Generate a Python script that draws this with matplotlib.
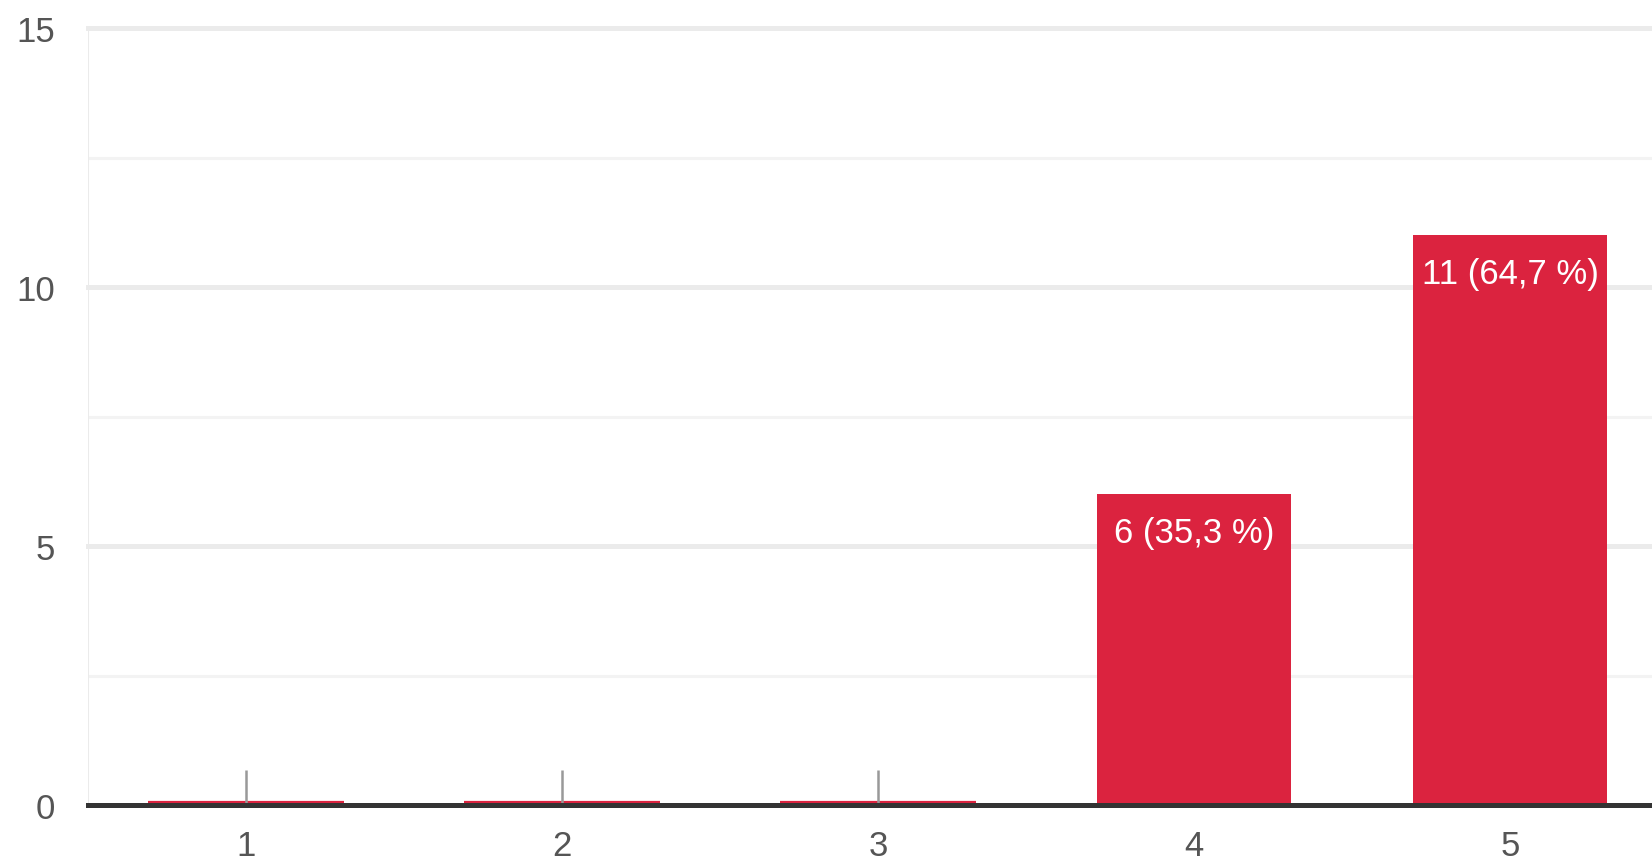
import numpy as np
import matplotlib.pyplot as plt
import matplotlib.transforms as mtransforms

plt.rcParams['font.family'] = ['Liberation Sans', 'DejaVu Sans']

# data
cats = ['1', '2', '3', '4', '5']
counts = [0, 0, 0, 6, 11]
total = sum(counts)
yticks = [0, 5, 10, 15]
yminor = [2.5, 7.5, 12.5]

bar_col = '#db233f'
txt_col = '#555555'

fig = plt.figure(figsize=(16.52, 8.62), dpi=100)
ax = fig.add_axes([88 / 1652, 56 / 862, 1580 / 1652, 777 / 862])

x = np.arange(1, len(cats) + 1)
ax.set_xlim(0.5, len(cats) + 0.5)
ax.set_ylim(0, 15)

# grid
for v in yminor:
    ax.axhline(v, color='#f3f3f3', lw=2.2, zorder=0)
for v in yticks[1:]:
    ax.axhline(v, color='#ebebeb', lw=3.6, zorder=0, clip_on=False)
ax.axvline(0.5, color='#ebebeb', lw=1.5, zorder=0)

ax.bar(x, counts, width=0.617, color=bar_col, zorder=2)

# zero-count categories: thin red line + gray marker
up = mtransforms.offset_copy(ax.transData, fig=fig, x=0, y=3, units='dots')
for xi, c in zip(x, counts):
    if c == 0:
        ax.plot([xi - 0.31, xi + 0.31], [0, 0], color=bar_col, lw=1.6,
                transform=up, zorder=3, solid_capstyle='butt')
        ax.vlines(xi, 0, 0.68, color='#999999', lw=1.8, zorder=3)
    else:
        pct = f'{c / total * 100:.1f}'.replace('.', ',')
        ax.annotate(f'{c} ({pct} %)', (xi, c), xytext=(0, -38),
                    textcoords='offset pixels', ha='center', va='center',
                    color='white', fontsize=25, zorder=4)

ax.axhline(0, color='#333333', lw=3.6, zorder=5, clip_on=False)

for s in ax.spines.values():
    s.set_visible(False)
ax.set_xticks(x)
ax.set_xticklabels(cats)
ax.set_yticks(yticks)
ax.tick_params(length=0, labelsize=25, colors=txt_col)
ax.tick_params(axis='y', pad=24)
ax.tick_params(axis='x', pad=17)

fig.savefig('out.png', dpi=100)
